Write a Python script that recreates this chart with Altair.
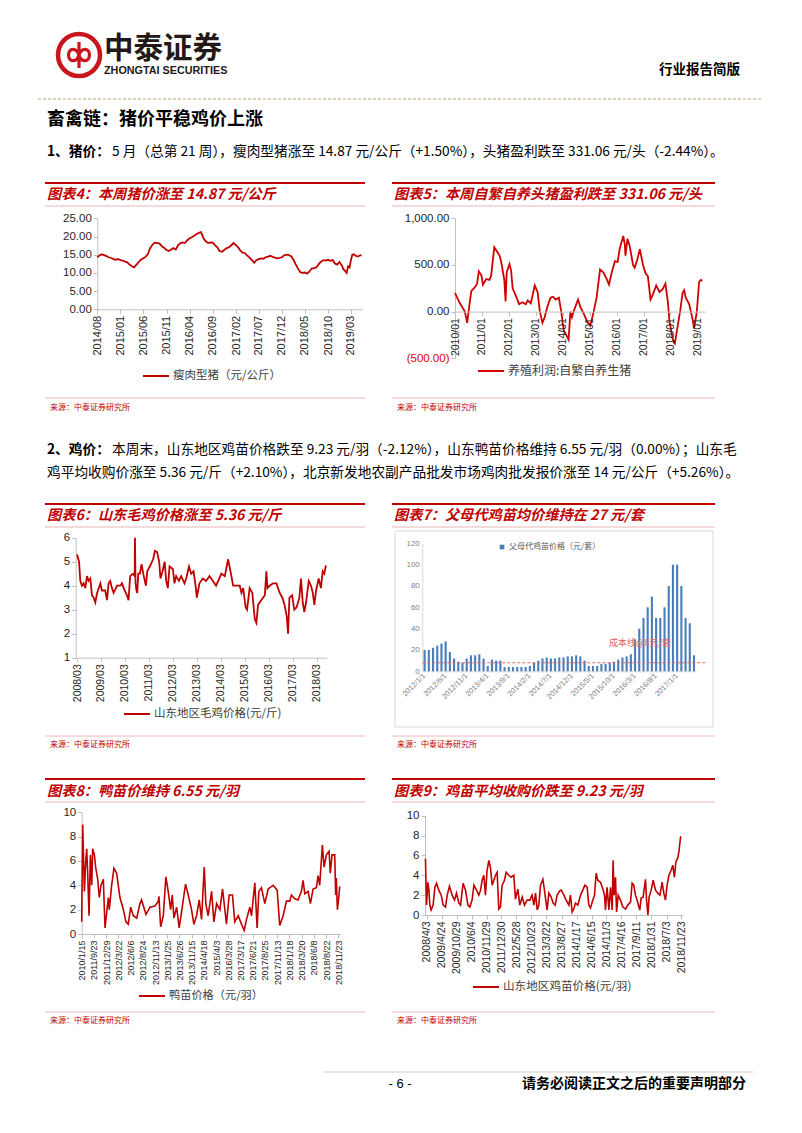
import altair as alt
import pandas as pd

# ---------------- data ----------------
# 图表4 瘦肉型猪（元/公斤）
pig_dates = (["2014-08-01", "2014-08-15", "2014-09-01", "2014-09-15", "2014-10-01",
              "2014-10-15", "2014-11-01", "2014-11-15", "2014-12-01", "2014-12-15"]
             + [f"{y}-{m:02d}-{d:02d}" for y in (2015, 2016, 2017, 2018) for m in range(1, 13) for d in (1, 15)]
             + ["2019-01-01", "2019-01-10", "2019-01-20", "2019-02-01", "2019-02-10", "2019-02-20",
                "2019-03-01", "2019-03-10", "2019-03-20", "2019-04-01", "2019-04-15", "2019-05-01", "2019-05-10"])
pig_price = [14.3, 14.8, 15.1, 14.9, 14.6, 14.3, 14.1, 13.8, 13.6, 13.8,
             13.5, 13.4, 13.1, 12.9, 12.3, 11.9, 11.5, 12.2, 13.0, 13.6, 14.0, 14.4,
             15.2, 16.8, 17.8, 18.3, 18.2, 18.1, 17.3, 16.9, 16.3, 16.0, 16.4, 16.8,
             16.4, 17.6, 18.2, 18.4, 18.2, 18.9, 19.5, 19.8, 20.2, 20.6, 21.0, 21.2,
             19.6, 18.7, 18.2, 18.4, 18.3, 17.6, 17.0, 16.0, 15.8, 16.3, 16.8, 17.0,
             17.6, 18.2, 17.6, 17.0, 16.2, 15.6, 15.4, 14.8, 14.2, 13.6, 12.8, 13.5,
             13.8, 14.0, 13.9, 14.3, 14.5, 14.7, 14.4, 14.2, 14.0, 14.1, 14.3, 14.8,
             15.0, 14.9, 14.5, 13.6, 12.4, 11.3, 10.2, 10.0, 10.1, 9.8, 10.4, 11.2,
             11.3, 11.5, 12.4, 13.1, 13.5, 13.4, 13.6, 13.3, 13.5, 12.6, 12.3, 13.0,
             12.0, 11.0, 10.6, 10.0, 11.8, 11.5, 13.5, 15.0, 15.1, 14.7, 14.5, 14.8, 14.87]

# 图表5 养殖利润:自繁自养生猪
profit_dates = ["2010-01-01", "2010-03-01", "2010-05-15", "2010-06-15", "2010-07-20", "2010-08-10", "2010-09-25", "2010-10-28", "2010-11-20", "2010-12-25",
                "2011-01-15", "2011-03-01", "2011-04-12", "2011-05-05", "2011-06-18", "2011-07-20", "2011-08-28", "2011-09-18", "2011-11-01", "2011-11-18", "2011-12-03",
                "2012-01-10", "2012-02-01", "2012-02-22", "2012-04-06", "2012-05-20", "2012-07-03", "2012-08-18", "2012-09-12", "2012-10-25", "2012-12-18",
                "2013-01-25", "2013-02-25", "2013-04-01", "2013-05-01", "2013-06-06", "2013-07-20", "2013-08-22", "2013-09-28", "2013-11-10", "2013-12-12",
                "2014-01-15", "2014-03-22", "2014-04-15", "2014-05-06", "2014-05-28", "2014-07-28", "2014-08-28", "2014-10-12", "2014-11-25",
                "2015-01-10", "2015-02-25", "2015-04-06", "2015-05-22", "2015-07-06", "2015-08-20", "2015-09-20", "2015-10-28", "2015-12-10",
                "2016-01-15", "2016-02-15", "2016-04-01", "2016-04-22", "2016-05-01", "2016-05-28", "2016-06-28", "2016-08-12", "2016-09-03", "2016-10-10", "2016-11-12", "2016-12-25",
                "2017-01-28", "2017-03-01", "2017-04-06", "2017-05-06", "2017-06-22", "2017-08-06", "2017-09-18", "2017-10-25", "2017-11-28", "2017-12-18",
                "2018-02-03", "2018-03-03", "2018-04-10", "2018-05-12", "2018-06-15", "2018-07-06", "2018-07-28", "2018-09-12", "2018-10-28", "2018-11-18", "2018-12-25",
                "2019-01-25", "2019-02-18", "2019-03-10"]
profit_vals = [200, 100, 0, -120, 100, 220, 260, 300, 430, 390,
               290, 350, 340, 380, 690, 650, 600, 540, 340, 110, 420,
               510, 440, 250, 170, 80, 100, 80, 120, 90, 280,
               210, 0, -120, -60, 50, 150, 160, 130, 150, 0,
               -200, -300, 0, -60, 0, 130, 50, -20, -100,
               -150, 0, 150, 450, 420, 350, 290, 420, 540,
               530, 680, 810, 720, 600, 780, 700, 500, 470, 560, 670, 500,
               410, 380, 130, 180, 280, 210, 240, 300, 100, -100,
               -300, -340, -150, 0, 200, 230, 150, 80, -80, -180, 0,
               320, 340, 331]

# 图表6 山东地区毛鸡价格(元/斤)
broiler_dates = ["2008-03-01", "2008-04-01", "2008-04-20", "2008-05-15", "2008-06-10", "2008-07-05", "2008-08-01", "2008-08-25", "2008-09-20", "2008-10-15", "2008-11-10", "2008-12-05",
                 "2009-01-01", "2009-02-20", "2009-03-15", "2009-05-05", "2009-06-01", "2009-06-25", "2009-07-20", "2009-08-15", "2009-09-10", "2009-11-01", "2009-12-20",
                 "2010-01-15", "2010-02-10", "2010-04-01", "2010-04-25", "2010-05-20", "2010-07-01", "2010-07-28", "2010-08-01", "2010-08-10", "2010-08-25", "2010-09-05", "2010-09-20", "2010-10-15", "2010-11-10", "2010-12-05",
                 "2011-01-15", "2011-02-05", "2011-03-15", "2011-05-05", "2011-06-01", "2011-07-05", "2011-08-05", "2011-08-25", "2011-09-25", "2011-10-28", "2011-11-20", "2011-12-15",
                 "2012-01-10", "2012-03-01", "2012-03-25", "2012-04-20", "2012-06-01", "2012-07-05", "2012-08-25", "2012-09-20", "2012-11-01", "2012-12-05",
                 "2013-01-10", "2013-02-10", "2013-03-01", "2013-04-10", "2013-06-01", "2013-07-20", "2013-09-10", "2013-11-01", "2013-12-20",
                 "2014-03-10", "2014-05-01", "2014-06-20", "2014-08-10", "2014-09-05", "2014-10-25", "2014-12-15",
                 "2015-01-10", "2015-02-05", "2015-03-15", "2015-04-05", "2015-05-15", "2015-06-25", "2015-08-01", "2015-08-25", "2015-09-20", "2015-11-10",
                 "2016-01-01", "2016-01-25", "2016-02-10", "2016-03-15", "2016-05-05", "2016-06-25", "2016-08-15", "2016-09-25", "2016-10-28", "2016-12-01", "2016-12-20",
                 "2017-01-10", "2017-02-20", "2017-03-25", "2017-04-30", "2017-06-10", "2017-07-05", "2017-08-01", "2017-08-25", "2017-09-20", "2017-11-01", "2017-12-05",
                 "2018-01-01", "2018-01-25", "2018-02-20", "2018-04-01", "2018-05-05", "2018-06-01", "2018-06-25", "2018-07-20"]
broiler_price = [5.3, 5.0, 4.2, 4.0, 4.1, 3.9, 4.4, 4.2, 4.3, 3.6, 3.5, 3.3,
                 3.7, 4.1, 3.8, 3.8, 3.4, 4.1, 4.2, 3.9, 3.7, 4.0, 4.0,
                 4.1, 3.9, 3.6, 3.4, 4.4, 4.5, 4.4, 6.0, 4.1, 3.8, 3.7, 4.5, 4.5, 4.9, 4.5,
                 4.0, 4.6, 4.8, 5.1, 5.45, 5.4, 5.0, 4.3, 4.6, 5.0, 4.2, 3.9,
                 4.8, 4.7, 4.1, 4.4, 4.2, 4.4, 4.1, 4.3, 4.8, 4.5,
                 4.6, 4.0, 3.5, 4.1, 4.3, 4.2, 4.4, 4.2, 4.0,
                 4.5, 4.4, 5.1, 4.4, 4.0, 4.0, 4.0,
                 3.7, 3.9, 3.1, 3.0, 3.9, 3.7, 2.6, 2.45, 3.2, 3.4,
                 3.6, 4.6, 3.9, 4.0, 4.1, 4.1, 3.7, 3.5, 3.2, 2.7, 2.0,
                 3.5, 3.6, 3.0, 3.1, 3.5, 4.3, 3.3, 2.9, 3.3, 4.2, 4.0,
                 3.7, 3.2, 3.8, 4.3, 3.9, 4.6, 4.5, 4.85]

# 图表7 父母代鸡苗价格（元/套）, monthly 2012/1 - 2017/5
ps_months = [f"{y}/{m}/1" for y in range(2012, 2018) for m in range(1, 13)][:65]
ps_price = [20, 20, 22, 24, 26, 28, 18, 12, 9, 8, 12, 15,
            15, 16, 12, 5, 11, 10, 10, 4, 4, 4, 4, 4,
            4, 5, 8, 10, 12, 13, 12, 12, 13, 13, 14, 14,
            15, 14, 10, 5, 5, 5, 7, 7, 8, 9, 11, 13,
            14, 16, 30, 40, 50, 60, 70, 50, 50, 60, 80, 100,
            100, 80, 50, 45, 15]
ps_ticks = ps_months[::5]
ps_cost = 8

# 图表8 鸭苗价格（元/羽）: position in tick-label units
duck_labels = ["2010/1/15", "2011/9/23", "2011/12/29", "2012/3/22", "2012/6/6", "2012/8/24", "2012/11/13",
               "2013/1/25", "2013/6/26", "2013/11/15", "2014/4/18", "2015/4/3", "2016/3/28", "2017/3/17",
               "2017/6/21", "2017/8/25", "2017/11/13", "2018/1/18", "2018/3/20", "2018/6/8", "2018/8/22", "2018/11/23"]
duck_pos = [0.00, 0.08, 0.22, 0.33, 0.41, 0.49, 0.60, 0.71, 0.82, 0.90,
            1.04, 1.14, 1.31, 1.44, 1.58, 1.77, 1.91, 2.18, 2.26, 2.45,
            2.64, 2.86, 3.13, 3.27, 3.41, 3.62, 3.81, 4.01, 4.22, 4.50,
            4.77, 4.90, 5.26, 5.59, 6.00, 6.27, 6.32, 6.46, 6.68, 6.89,
            7.08, 7.28, 7.41, 7.55, 7.77, 7.98, 8.17, 8.50, 8.72, 8.99,
            9.18, 9.40, 9.62, 9.81, 10.03, 10.16, 10.35, 10.63, 10.82, 11.04,
            11.31, 11.53, 11.85, 12.07, 12.34, 12.53, 12.81, 13.08, 13.30, 13.49,
            13.76, 13.90, 14.17, 14.36, 14.50, 14.71, 14.99, 15.26, 15.67, 16.00,
            16.21, 16.49, 16.76, 17.03, 17.17, 17.44, 17.71, 17.98, 18.12, 18.26,
            18.53, 18.72, 18.94, 19.21, 19.35, 19.48, 19.70, 19.84, 20.03, 20.25,
            20.35, 20.49, 20.71, 20.79, 20.84, 20.93, 21.04, 21.12]
duck_price = [1.0, 9.0, 3.5, 6.0, 7.0, 5.0, 1.5, 6.5, 4.0, 7.0,
              6.5, 5.5, 4.5, 3.0, 4.0, 4.5, 0.5, 3.0, 2.0, 4.0,
              5.4, 5.0, 3.0, 2.5, 2.0, 1.0, 0.8, 2.2, 1.5, 1.3,
              2.5, 2.8, 1.6, 2.2, 2.3, 2.7, 3.1, 0.6, 1.5, 4.7,
              3.5, 2.0, 3.2, 1.3, 2.2, 0.5, 1.8, 4.1, 3.2, 2.0,
              0.8, 1.5, 2.8, 1.2, 5.5, 2.5, 1.5, 3.5, 1.0, 2.5,
              2.0, 3.7, 0.8, 3.2, 3.2, 1.0, 1.5, 0.8, 0.3, 1.2,
              2.2, 1.5, 4.2, 0.5, 3.5, 3.8, 2.5, 3.7, 4.0, 3.6,
              0.7, 1.5, 2.7, 2.7, 3.2, 2.9, 2.8, 3.5, 4.4, 3.3,
              3.5, 2.5, 3.7, 3.8, 4.8, 4.0, 7.3, 5.5, 6.5, 6.8,
              5.0, 6.5, 6.5, 3.2, 4.6, 2.0, 3.0, 3.9]

# 图表9 山东地区鸡苗价格(元/羽): position in tick-label units
chick_labels = ["2008/4/3", "2009/4/24", "2009/10/29", "2010/6/4", "2010/11/29", "2011/12/30", "2012/5/28",
                "2012/10/23", "2013/3/22", "2013/8/27", "2014/1/17", "2014/6/15", "2014/11/3", "2017/4/16",
                "2017/9/11", "2018/1/31", "2018/7/3", "2018/11/23"]
chick_pos = [-0.07, 0.00, 0.09, 0.16, 0.22, 0.31, 0.44, 0.56, 0.67, 0.82,
             0.98, 1.11, 1.27, 1.38, 1.53, 1.71, 1.87, 2.00, 2.16, 2.27,
             2.44, 2.60, 2.76, 2.89, 3.04, 3.16, 3.33, 3.49, 3.60, 3.71,
             3.82, 3.93, 4.04, 4.16, 4.27, 4.38, 4.49, 4.60, 4.71, 4.82,
             4.93, 5.04, 5.20, 5.31, 5.49, 5.64, 5.82, 5.93, 6.09, 6.22,
             6.38, 6.53, 6.71, 6.89, 7.04, 7.16, 7.27, 7.38, 7.49, 7.60,
             7.76, 7.89, 8.04, 8.16, 8.31, 8.44, 8.58, 8.71, 8.87, 8.98,
             9.16, 9.31, 9.49, 9.60, 9.71, 9.82, 9.93, 10.09, 10.27, 10.42,
             10.56, 10.71, 10.82, 10.93, 11.09, 11.20, 11.31, 11.42, 11.60, 11.76,
             11.87, 11.93, 12.04, 12.16, 12.27, 12.38, 12.44, 12.51, 12.60, 12.67,
             12.78, 12.93, 13.09, 13.27, 13.42, 13.60, 13.71, 13.82, 13.93, 14.04,
             14.16, 14.22, 14.31, 14.44, 14.60, 14.67, 14.76, 14.84, 14.98, 15.11,
             15.27, 15.42, 15.56, 15.71, 15.82, 15.93, 16.04, 16.16, 16.31, 16.42,
             16.53, 16.62, 16.76, 16.84, 16.93, 16.98]
chick_price = [5.7, 1.0, 3.3, 2.5, 1.0, 0.5, 1.0, 2.8, 3.2, 2.5,
               2.0, 1.0, 0.8, 2.0, 2.9, 2.0, 1.5, 2.2, 1.2, 1.0,
               3.2, 2.5, 1.0, 0.8, 1.5, 3.0, 2.5, 2.0, 2.5, 3.5,
               4.0, 2.0, 4.5, 5.5, 4.7, 3.0, 3.5, 4.0, 4.3, 0.6,
               0.8, 3.0, 3.5, 4.3, 4.0, 3.8, 4.0, 1.6, 2.6, 1.0,
               1.8, 1.0, 1.5, 1.5, 2.0, 1.0, 2.2, 0.5, 1.0, 3.0,
               3.6, 2.2, 0.5, 2.2, 1.8, 1.2, 1.0, 2.0, 2.4, 2.5,
               2.0, 1.5, 1.0, 2.0, 0.3, 0.6, 1.2, 1.0, 2.0, 2.5,
               3.0, 2.8, 1.0, 0.7, 1.5, 2.0, 4.2, 3.5, 3.3, 2.6,
               2.0, 0.5, 2.8, 0.5, 2.8, 0.5, 5.5, 2.0, 3.8, 0.3,
               2.0, 1.5, 0.8, 0.6, 1.0, 1.3, 3.2, 3.0, 2.0, 1.5,
               0.8, 0.5, 1.7, 1.8, 3.6, 1.5, 0.0, 1.8, 2.5, 3.5,
               2.5, 2.2, 2.0, 3.3, 2.2, 1.5, 3.0, 4.0, 4.5, 5.0,
               3.8, 5.3, 5.8, 6.5, 7.8, 7.9]

# ---------------- styling helpers ----------------
FONT_CN = "Noto Sans CJK SC"
FONT_EN = "Liberation Sans"
RED = "#C00000"
PINK = "#E3A6A6"
LOGO_RED = "#C8161D"
TITLE_SIZE = 14.2
BODY_SIZE = 13.7


def dchart():
    return alt.Chart(pd.DataFrame({"k": [0]}))


class Cell:
    """A layout box in page pixels; its view origin is its top-left corner."""

    def __init__(self, l, t, r, b):
        self.l, self.t, self.r, self.b = l, t, r, b
        self.w, self.h = r - l, b - t

    def X(self, v):
        return v - self.l

    def Y(self, v):
        return v - self.t

    def xrange(self, a, b):
        return [self.X(a), self.X(b)]

    def yrange(self, bottom, top):
        return [self.Y(bottom), self.Y(top)]

    def yaxis_offset(self, axis_x):
        return -(axis_x - self.l)

    def xaxis_offset(self, axis_y):
        return -(self.b - axis_y)

    def text(self, x, y, s, size=13, color="#000000", weight="normal", style="normal",
             align="left", font=FONT_CN):
        return dchart().mark_text(align=align, baseline="middle", fontSize=size, font=font,
                                  fontWeight=weight, fontStyle=style, color=color).encode(
            x=alt.value(self.X(x)), y=alt.value(self.Y(y)), text=alt.value(s))

    def hrule(self, x1, x2, y, color, width=1.0, dash=None):
        props = dict(color=color, strokeWidth=width)
        if dash:
            props["strokeDash"] = dash
        return dchart().mark_rule(**props).encode(
            x=alt.value(self.X(x1)), x2=alt.value(self.X(x2)), y=alt.value(self.Y(y)))

    def vrule(self, x, y1, y2, color, width=1.0):
        return dchart().mark_rule(color=color, strokeWidth=width).encode(
            x=alt.value(self.X(x)), y=alt.value(self.Y(y1)), y2=alt.value(self.Y(y2)))


def panel_deco(cell, x1, x2, top, title, title_y, pink, bottom, source_y):
    return [cell.hrule(x1, x2, top, RED, 2.2),
            cell.text(x1 + 2, title_y, title, TITLE_SIZE, RED, "bold", "italic"),
            cell.hrule(x1, x2, pink, PINK, 0.8),
            cell.hrule(x1, x2, bottom, PINK, 0.8),
            cell.text(x1 + 5, source_y, "来源：中泰证券研究所", 8, RED)]


def line_legend(cell, x_start, y_center, fsize, length=26):
    return alt.Legend(orient="none", legendX=cell.X(x_start), legendY=cell.Y(y_center) - length / 2,
                      title=None, symbolType="stroke", symbolSize=length * length, symbolStrokeWidth=2,
                      labelFont=FONT_CN, labelFontSize=fsize, labelColor="#404040", labelOffset=3,
                      padding=0)


def dt(y, m, d=1):
    return alt.DateTime(year=y, month=m, date=d, utc=True)


AX = dict(labelFont=FONT_EN, labelColor="#262626", domainColor="#BFBFBF", tickColor="#BFBFBF",
          tickSize=4, grid=False, title=None, labelPadding=2)
XROT = dict(labelAngle=270, labelAlign="right", labelBaseline="middle", labelFlush=False,
            labelOverlap=False)

# ---------------- header ----------------
ch = Cell(8, 8, 794, 178)
logo_path = ("M0,-0.72L0,0.72M0,0C-0.12,-0.42,-0.58,-0.42,-0.58,0C-0.58,0.42,-0.12,0.42,0,0"
             "C0.12,-0.42,0.58,-0.42,0.58,0C0.58,0.42,0.12,0.42,0,0")
header = alt.layer(
    dchart().mark_point(shape="circle", filled=False, size=1764, strokeWidth=4.5, color=LOGO_RED, opacity=1).encode(
        x=alt.value(ch.X(79)), y=alt.value(ch.Y(55))),
    dchart().mark_point(shape=logo_path, filled=False, size=1300, strokeWidth=3.2, color=LOGO_RED, opacity=1).encode(
        x=alt.value(ch.X(79)), y=alt.value(ch.Y(55))),
    ch.text(104, 49, "中泰证券", 29.5, "#231815", "bold"),
    ch.text(104, 71, "ZHONGTAI SECURITIES", 10.8, "#231815", "bold", font=FONT_EN),
    ch.text(740, 70, "行业报告简版", 13.5, "#000000", "bold", align="right"),
    ch.hrule(38, 762, 99, "#D5C4A1", 1.5, dash=[3, 2]),
    ch.text(47, 120, "畜禽链：猪价平稳鸡价上涨", 18, "#000000", "bold"),
    ch.text(47, 152, "1、猪价：", BODY_SIZE, "#000000", "bold"),
    ch.text(112, 152, "5 月（总第 21 周），瘦肉型猪涨至 14.87 元/公斤（+1.50%），头猪盈利跌至 331.06 元/头（-2.44%）。", BODY_SIZE),
).properties(width=ch.w, height=ch.h)

# ---------------- 图表4 ----------------
c4 = Cell(8, 178, 380, 425)
df4 = pd.DataFrame({"date": pig_dates, "price": pig_price, "s": "瘦肉型猪（元/公斤）"})
line4 = alt.Chart(df4).mark_line(strokeWidth=1.8).encode(
    x=alt.X("date:T", scale=alt.Scale(type="utc", domain=[dt(2014, 8, 1), dt(2019, 5, 15)], nice=False,
                                      range=c4.xrange(97.3, 362.3)),
            axis=alt.Axis(values=[dt(2014, 8), dt(2015, 1), dt(2015, 6), dt(2015, 11), dt(2016, 4), dt(2016, 9),
                                  dt(2017, 2), dt(2017, 7), dt(2017, 12), dt(2018, 5), dt(2018, 10), dt(2019, 3)],
                          format="%Y/%m", labelFontSize=11, offset=c4.xaxis_offset(309.3), **XROT, **AX)),
    y=alt.Y("price:Q", scale=alt.Scale(domain=[0, 25], nice=False, range=c4.yrange(309.3, 218.3)),
            axis=alt.Axis(values=[0, 5, 10, 15, 20, 25], format=".2f", labelFontSize=11.5,
                          offset=c4.yaxis_offset(97.3), **AX)),
    color=alt.Color("s:N", scale=alt.Scale(range=[RED]), legend=line_legend(c4, 142, 375, 11.5)),
)
chart4 = alt.layer(*panel_deco(c4, 45, 365, 183, "图表4：本周猪价涨至 14.87 元/公斤", 195, 206, 398, 408),
                   line4).properties(width=c4.w, height=c4.h)

# ---------------- 图表5 ----------------
c5 = Cell(380, 178, 794, 425)
df5 = pd.DataFrame({"date": profit_dates, "profit": profit_vals, "s": "养殖利润:自繁自养生猪"})
line5 = alt.Chart(df5).mark_line(strokeWidth=1.8).encode(
    x=alt.X("date:T", scale=alt.Scale(type="utc", domain=[dt(2010, 1, 1), dt(2019, 4, 15)], nice=False,
                                      range=c5.xrange(455, 705)),
            axis=alt.Axis(values=[dt(y, 1) for y in range(2010, 2020)], format="%Y/%m", labelFontSize=10.5,
                          offset=c5.xaxis_offset(311.6), zindex=1, **XROT, **AX)),
    y=alt.Y("profit:Q", scale=alt.Scale(domain=[-500, 1000], nice=False, range=c5.yrange(358.3, 218.3)),
            axis=alt.Axis(values=[-500, 0, 500, 1000], labelFontSize=11.5, offset=c5.yaxis_offset(455),
                          labelExpr="datum.value < 0 ? '(' + format(-datum.value, ',.2f') + ')' : format(datum.value, ',.2f')",
                          **{k: v for k, v in AX.items() if k != "labelColor"},
                          labelColor={"condition": {"test": "datum.value < 0", "value": "#E00000"}, "value": "#262626"})),
    color=alt.Color("s:N", scale=alt.Scale(range=["#D00000"]), legend=line_legend(c5, 477, 370, 12)),
)
chart5 = alt.layer(*panel_deco(c5, 392, 715, 183, "图表5：本周自繁自养头猪盈利跌至 331.06 元/头", 195, 206, 398, 408),
                   line5).properties(width=c5.w, height=c5.h)

# ---------------- paragraph 2 ----------------
cp = Cell(8, 425, 794, 495)
para2 = alt.layer(
    cp.text(47, 450, "2、鸡价：", BODY_SIZE, "#000000", "bold"),
    cp.text(112, 450, "本周末，山东地区鸡苗价格跌至 9.23 元/羽（-2.12%），山东鸭苗价格维持 6.55 元/羽（0.00%）；山东毛", BODY_SIZE),
    cp.text(47, 473, "鸡平均收购价涨至 5.36 元/斤（+2.10%），北京新发地农副产品批发市场鸡肉批发报价涨至 14 元/公斤（+5.26%）。", BODY_SIZE),
).properties(width=cp.w, height=cp.h)

# ---------------- 图表6 ----------------
c6 = Cell(8, 495, 380, 760)
df6 = pd.DataFrame({"date": broiler_dates, "price": broiler_price, "s": "山东地区毛鸡价格(元/斤)"})
line6 = alt.Chart(df6).mark_line(strokeWidth=1.8).encode(
    x=alt.X("date:T", scale=alt.Scale(type="utc", domain=[dt(2008, 2, 10), dt(2018, 8, 1)], nice=False,
                                      range=c6.xrange(75.7, 326.7)),
            axis=alt.Axis(values=[dt(y, 3) for y in range(2008, 2019)], format="%Y/%m", labelFontSize=10.5,
                          offset=c6.xaxis_offset(657.7), **XROT, **AX)),
    y=alt.Y("price:Q", scale=alt.Scale(domain=[1, 6], nice=False, range=c6.yrange(657.7, 537.7)),
            axis=alt.Axis(values=[1, 2, 3, 4, 5, 6], format="d", labelFontSize=11.5,
                          offset=c6.yaxis_offset(75.7), **AX)),
    color=alt.Color("s:N", scale=alt.Scale(range=[RED]), legend=line_legend(c6, 123, 713, 11.5)),
)
chart6 = alt.layer(*panel_deco(c6, 45, 365, 504, "图表6：山东毛鸡价格涨至 5.36 元/斤", 516, 527, 736, 745),
                   line6).properties(width=c6.w, height=c6.h)

# ---------------- 图表7 ----------------
c7 = Cell(380, 495, 794, 760)
df7 = pd.DataFrame({"month": ps_months, "price": ps_price, "s": "父母代鸡苗价格（元/套）"})
GRAYAX = dict(labelFont=FONT_EN, labelColor="#7F7F7F", domainColor="#D9D9D9", ticks=False, grid=False,
              title=None, labelPadding=3)
bars7 = alt.Chart(df7).mark_bar().encode(
    x=alt.X("month:O", sort=None,
            scale=alt.Scale(paddingInner=0.5, paddingOuter=0.3, range=c7.xrange(422.3, 696.3)),
            axis=alt.Axis(values=ps_ticks, labelAngle=315, labelAlign="right", labelBaseline="middle",
                          labelFontSize=7.5, labelOverlap=False, offset=c7.xaxis_offset(671.3), **GRAYAX)),
    y=alt.Y("price:Q", scale=alt.Scale(domain=[0, 120], nice=False, range=c7.yrange(671.3, 543.3)),
            axis=alt.Axis(values=[0, 20, 40, 60, 80, 100, 120], labelFontSize=8,
                          offset=c7.yaxis_offset(422.3), **GRAYAX)),
    color=alt.Color("s:N", scale=alt.Scale(range=["#4A7EBB"]),
                    legend=alt.Legend(orient="none", legendX=c7.X(498), legendY=c7.Y(547) - 4, title=None,
                                      symbolType="square", symbolSize=22, labelFont=FONT_CN, labelFontSize=8,
                                      labelColor="#595959", labelOffset=3, padding=0)),
)
cost7 = dchart().mark_rule(color="#E06666", strokeDash=[3, 2], strokeWidth=1).encode(
    y=alt.YDatum(ps_cost), x=alt.value(c7.X(422.3)), x2=alt.value(c7.X(706)))
chart7 = alt.layer(*panel_deco(c7, 392, 715, 504, "图表7：父母代鸡苗均价维持在 27 元/套", 516, 527, 736, 745),
                   c7.hrule(395, 713, 531, "#D9D9D9", 1), c7.hrule(395, 713, 727, "#D9D9D9", 1),
                   c7.vrule(395, 531, 727, "#D9D9D9", 1), c7.vrule(713, 531, 727, "#D9D9D9", 1),
                   bars7, cost7,
                   c7.text(640, 643, "成本线@8元/套", 9, "#E06666", align="center"),
                   ).properties(width=c7.w, height=c7.h)

# ---------------- 图表8 ----------------
c8 = Cell(8, 760, 380, 1040)
df8 = pd.DataFrame({"pos": duck_pos, "price": duck_price, "s": "鸭苗价格（元/羽）"})
expr8 = "[" + ",".join("'" + s + "'" for s in duck_labels) + "][round(datum.value)]"
line8 = alt.Chart(df8).mark_line(strokeWidth=1.6).encode(
    x=alt.X("pos:Q", scale=alt.Scale(domain=[0, 21.2], nice=False, zero=False, range=c8.xrange(81.7, 340.7)),
            axis=alt.Axis(values=list(range(len(duck_labels))), labelExpr=expr8, labelFontSize=9,
                          offset=c8.xaxis_offset(934), **XROT, **AX)),
    y=alt.Y("price:Q", scale=alt.Scale(domain=[0, 10], nice=False, range=c8.yrange(934, 812.3)),
            axis=alt.Axis(values=[0, 2, 4, 6, 8, 10], format="d", labelFontSize=11.5,
                          offset=c8.yaxis_offset(81.7), **AX)),
    color=alt.Color("s:N", scale=alt.Scale(range=[RED]), legend=line_legend(c8, 138, 995, 11.2)),
)
chart8 = alt.layer(*panel_deco(c8, 45, 365, 779, "图表8：鸭苗价维持 6.55 元/羽", 792, 802, 1012, 1021),
                   line8).properties(width=c8.w, height=c8.h)

# ---------------- 图表9 ----------------
c9 = Cell(380, 760, 794, 1040)
df9 = pd.DataFrame({"pos": chick_pos, "price": chick_price, "s": "山东地区鸡苗价格(元/羽)"})
expr9 = "[" + ",".join("'" + s + "'" for s in chick_labels) + "][round(datum.value)]"
line9 = alt.Chart(df9).mark_line(strokeWidth=1.6).encode(
    x=alt.X("pos:Q", scale=alt.Scale(domain=[-0.1, 17.1], nice=False, zero=False, range=c9.xrange(425, 683)),
            axis=alt.Axis(values=list(range(len(chick_labels))), labelExpr=expr9, labelFontSize=10.5,
                          offset=c9.xaxis_offset(915), **XROT, **AX)),
    y=alt.Y("price:Q", scale=alt.Scale(domain=[0, 10], nice=False, range=c9.yrange(915, 815.7)),
            axis=alt.Axis(values=[0, 2, 4, 6, 8, 10], format="d", labelFontSize=11.5,
                          offset=c9.yaxis_offset(425), **AX)),
    color=alt.Color("s:N", scale=alt.Scale(range=[RED]), legend=line_legend(c9, 472, 986, 11.6)),
)
chart9 = alt.layer(*panel_deco(c9, 392, 715, 779, "图表9：鸡苗平均收购价跌至 9.23 元/羽", 792, 802, 1012, 1021),
                   line9).properties(width=c9.w, height=c9.h)

# ---------------- footer ----------------
cf = Cell(8, 1040, 794, 1125)
footer = alt.layer(
    cf.hrule(323, 753, 1072, "#D6CEC4", 1),
    cf.text(400, 1084, "- 6 -", 13, "#000000", align="center", font=FONT_EN),
    cf.text(522, 1084, "请务必阅读正文之后的重要声明部分", 14, "#000000", "bold"),
).properties(width=cf.w, height=cf.h)

row1 = alt.hconcat(chart4, chart5, spacing=0).resolve_scale(color="independent")
row2 = alt.hconcat(chart6, chart7, spacing=0).resolve_scale(color="independent")
row3 = alt.hconcat(chart8, chart9, spacing=0).resolve_scale(color="independent")

chart = alt.vconcat(header, row1, para2, row2, row3, footer, spacing=0).resolve_scale(
    color="independent").properties(padding=0, background="#FFFFFF").configure_view(strokeWidth=0)

chart.save("out.html", embed_options={"renderer": "svg", "actions": False})
